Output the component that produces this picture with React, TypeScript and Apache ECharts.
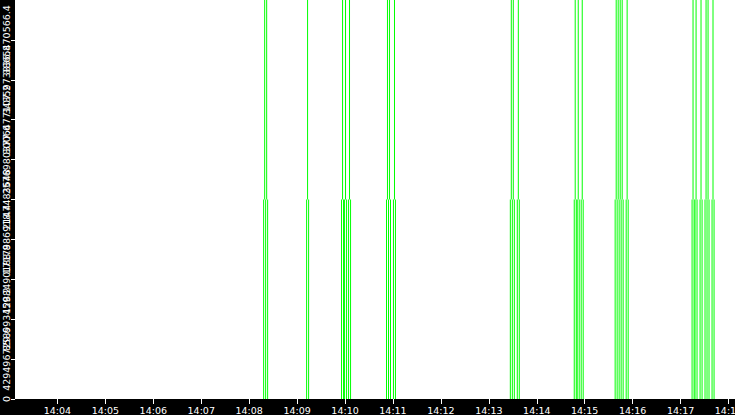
import React, { useEffect, useRef } from 'react';
import * as echarts from 'echarts';

const FONT = 'DejaVu Sans, sans-serif';
const GREEN = '#00ff00';

// ─── Data ────────────────────────────────────────────────────────────────────
// time window of the x axis
const X_MIN = '14:03:07.5';
const X_MAX = '14:18:07.5';

// y range (0 .. 2^32), ten steps
const Y_MAX = 4294967296;
const Y_MID = 2147483648;
const Y_STEP = 429496729.6;

// events that sit in the upper half (2^31 .. 2^32)
const HIGH_TIMES = [
  '14:08:19.4', '14:08:21.9', '14:09:13.1', '14:09:56.9', '14:10:00.6', '14:10:05.6',
  '14:10:53.1', '14:10:55.6', '14:11:01.9', '14:13:28.1', '14:13:30.6', '14:13:36.9',
  '14:14:48.1', '14:14:51.9', '14:14:56.9', '14:15:39.4', '14:15:41.9', '14:15:44.4',
  '14:15:46.9', '14:15:53.1', '14:17:15.6', '14:17:19.4', '14:17:25.6', '14:17:31.9',
  '14:17:34.4', '14:17:40.6',
];

// events that sit in the lower half (0 .. 2^31)
const LOW_TIMES = [
  '14:08:18.1', '14:08:20.6', '14:08:23.1', '14:09:11.9', '14:09:14.4', '14:09:55.6',
  '14:09:58.1', '14:09:59.4', '14:10:01.9', '14:10:04.4', '14:10:06.9', '14:10:51.9',
  '14:10:54.4', '14:10:56.9', '14:11:00.6', '14:11:03.1', '14:13:26.9', '14:13:29.4',
  '14:13:31.9', '14:13:35.6', '14:13:38.1', '14:14:46.9', '14:14:49.4', '14:14:50.6',
  '14:14:53.1', '14:14:55.6', '14:14:58.1', '14:15:38.1', '14:15:40.6', '14:15:43.1',
  '14:15:45.6', '14:15:48.1', '14:15:51.9', '14:15:54.4', '14:17:14.4', '14:17:16.9',
  '14:17:18.1', '14:17:20.6', '14:17:24.4', '14:17:26.9', '14:17:30.6', '14:17:33.1',
  '14:17:35.6', '14:17:39.4', '14:17:41.9',
];

function at(s: string): number {
  const [h, m, sec] = s.split(':');
  return new Date(2024, 0, 1, +h, +m, 0).getTime() + Math.round(parseFloat(sec) * 1000);
}

const pad = (n: number) => (n < 10 ? '0' + n : '' + n);

function getOption(): echarts.EChartsCoreOption {
  return {
    animation: false,
    backgroundColor: '#000',
    grid: {
      left: 15,
      right: 0,
      top: 0,
      bottom: 16,
      show: true,
      backgroundColor: '#fff',
      borderWidth: 0,
      outerBoundsMode: 'none',
      containLabel: false,
    },
    xAxis: {
      type: 'time',
      min: at(X_MIN),
      max: at(X_MAX),
      minInterval: 60000,
      maxInterval: 60000,
      axisLine: { show: false },
      axisTick: { show: true, length: 5, lineStyle: { color: '#fff', width: 1 } },
      splitLine: { show: false },
      axisLabel: {
        color: '#fff',
        fontFamily: FONT,
        fontSize: 9.5,
        margin: 6,
        showMinLabel: false,
        showMaxLabel: false,
        hideOverlap: false,
        formatter: (v: number) => {
          const d = new Date(v);
          if (d.getSeconds() || d.getMilliseconds()) return '';
          return pad(d.getHours()) + ':' + pad(d.getMinutes());
        },
      },
    },
    yAxis: {
      type: 'value',
      min: 0,
      max: Y_MAX,
      interval: Y_STEP,
      axisLine: { show: false },
      axisTick: { show: true, length: 4, lineStyle: { color: '#fff', width: 1 } },
      splitLine: { show: false },
      axisLabel: {
        color: '#fff',
        fontFamily: FONT,
        fontSize: 9.5,
        rotate: 90,
        margin: 4,
        hideOverlap: false,
        formatter: (v: number) => String(Math.round(v * 10) / 10),
      },
    },
    series: [
      {
        type: 'bar',
        name: 'low',
        barWidth: 1,
        barGap: '-100%',
        itemStyle: { color: GREEN },
        data: LOW_TIMES.map(t => [at(t), Y_MID]),
      },
      {
        type: 'bar',
        name: 'base',
        stack: 'hi',
        barWidth: 1,
        barGap: '-100%',
        itemStyle: { color: 'rgba(0,0,0,0)' },
        data: HIGH_TIMES.map(t => [at(t), Y_MID]),
      },
      {
        type: 'bar',
        name: 'high',
        stack: 'hi',
        barWidth: 1,
        barGap: '-100%',
        itemStyle: { color: GREEN },
        data: HIGH_TIMES.map(t => [at(t), Y_MAX - Y_MID]),
      },
    ],
  };
}

export default function App() {
  const ref = useRef<HTMLDivElement>(null);

  useEffect(() => {
    if (!ref.current) return;
    const chart = echarts.init(ref.current, undefined, { renderer: 'svg' });
    chart.setOption(getOption());
    return () => chart.dispose();
  }, []);

  return (
    <div
      ref={ref}
      style={{ position: 'fixed', left: 0, top: 0, width: 735, height: 415, background: '#000' }}
    />
  );
}
